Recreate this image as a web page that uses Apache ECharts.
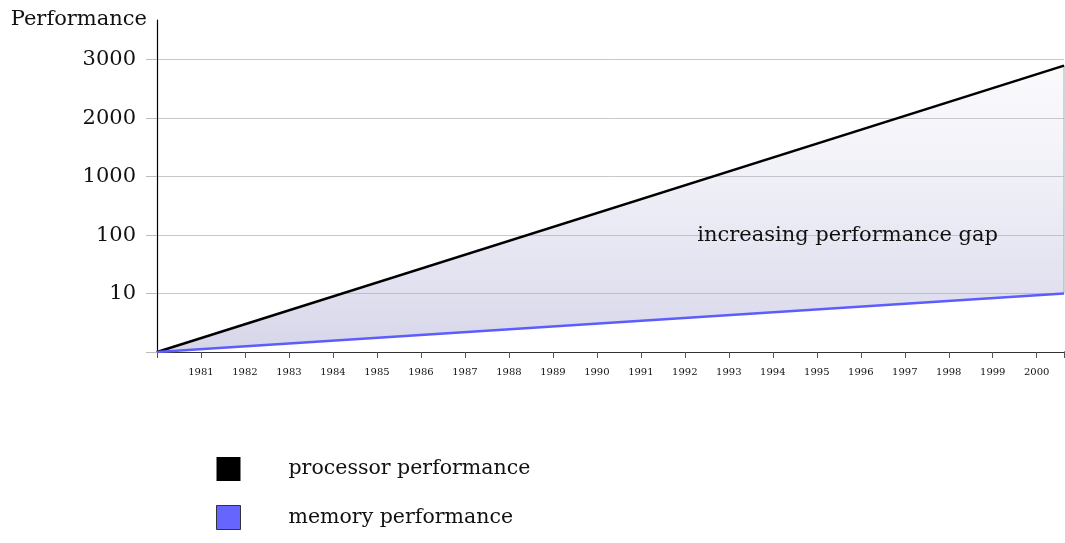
<!DOCTYPE html>
<html>
<head>
<meta charset="utf-8">
<script src="https://cdn.jsdelivr.net/npm/echarts@6/dist/echarts.min.js"></script>
<style>
  html, body { margin: 0; padding: 0; background: #fff; }
  #chart { width: 1065px; height: 543px; }
</style>
</head>
<body>
<div id="chart"></div>
<script>
// x positions (years) and levels on the y scale (one level per gridline)
const years = [1980, 2000.62]
const processor = [0, 4.9]
const memory = [0, 1]
const yTickLabels = ['', '10', '100', '1000', '2000', '3000']
const yearLabels = [1981, 1982, 1983, 1984, 1985, 1986, 1987, 1988, 1989, 1990,
  1991, 1992, 1993, 1994, 1995, 1996, 1997, 1998, 1999, 2000]
const gapNote = { text: 'increasing performance gap', year: 1995.7, level: 2 }

const font = 'DejaVu Serif'
const levels = yTickLabels.map((t, i) => i)
const xEnd = years[years.length - 1]

let chart = echarts.init(document.getElementById('chart'))
let option = {
  animation: false,
  textStyle: { fontFamily: font, color: '#111' },
  grid: { left: 157, right: 1, top: 20, bottom: 191, containLabel: false },
  legend: {
    orient: 'vertical',
    left: 211,
    top: 452,
    itemWidth: 24,
    itemHeight: 24,
    itemGap: 24,
    textStyle: { fontFamily: font, fontSize: 20.5, color: '#111', padding: [0, 0, 0, 43] },
    data: [
      { name: 'processor performance', icon: 'rect', itemStyle: { color: '#000' } },
      { name: 'memory performance', icon: 'rect', itemStyle: { color: '#6666ff', borderColor: '#333', borderWidth: 1 } }
    ]
  },
  xAxis: {
    type: 'value',
    min: years[0],
    max: xEnd,
    interval: 1,
    axisLine: { lineStyle: { color: '#000', width: 1.5 } },
    axisTick: { length: 6, lineStyle: { color: '#555' }, customValues: [years[0]].concat(yearLabels, [xEnd]) },
    axisLabel: { customValues: yearLabels, fontFamily: font, fontSize: 10, color: '#111', margin: 15, formatter: v => String(v) },
    splitLine: { show: false }
  },
  yAxis: {
    type: 'value',
    min: 0,
    max: 5.68,
    interval: 1,
    name: 'Performance',
    nameLocation: 'end',
    nameGap: 0,
    nameTextStyle: { fontFamily: font, fontSize: 21, color: '#111', align: 'right', verticalAlign: 'middle', padding: [0, 10, 0, 0] },
    axisLine: { show: true, lineStyle: { color: '#000', width: 1.2 } },
    axisTick: { show: true, length: 11, lineStyle: { color: '#bbb' }, customValues: levels },
    axisLabel: {
      customValues: levels.slice(1),
      fontFamily: font, fontSize: 21, color: '#111', margin: 21,
      formatter: v => yTickLabels[Math.round(v)]
    },
    splitLine: { show: true, lineStyle: { color: '#c8c8c8', width: 1 } }
  },
  series: [
    {
      name: 'processor performance',
      type: 'line',
      z: 3,
      symbol: 'none',
      color: '#000',
      lineStyle: { color: '#000', width: 2.5 },
      areaStyle: {
        color: new echarts.graphic.LinearGradient(0, 0, 0, 1, [
          { offset: 0, color: 'rgba(200,200,230,0.12)' },
          { offset: 1, color: 'rgba(150,150,200,0.56)' }
        ])
      },
      markPoint: {
        symbol: 'circle',
        symbolSize: 0,
        label: { show: true, position: 'inside', formatter: gapNote.text, fontFamily: font, fontSize: 21, color: '#111' },
        data: [{ coord: [gapNote.year, gapNote.level] }]
      },
      data: years.map((y, i) => [y, processor[i]])
    },
    {
      name: 'memory performance',
      type: 'line',
      z: 4,
      symbol: 'none',
      color: '#6666ff',
      lineStyle: { color: '#5c5cff', width: 2.5 },
      // white fill below the memory line so the gap area shows only between the lines
      areaStyle: { color: '#fff', opacity: 1 },
      data: years.map((y, i) => [y, memory[i]])
    },
    {
      // thin edge closing the gap area on the right
      name: 'edge',
      type: 'line',
      z: 2,
      symbol: 'none',
      silent: true,
      lineStyle: { color: '#aaa', width: 1 },
      data: [[xEnd, memory[memory.length - 1]], [xEnd, processor[processor.length - 1]]]
    }
  ]
}
chart.setOption(option)
window.addEventListener('resize', () => chart.resize())
</script>
</body>
</html>
